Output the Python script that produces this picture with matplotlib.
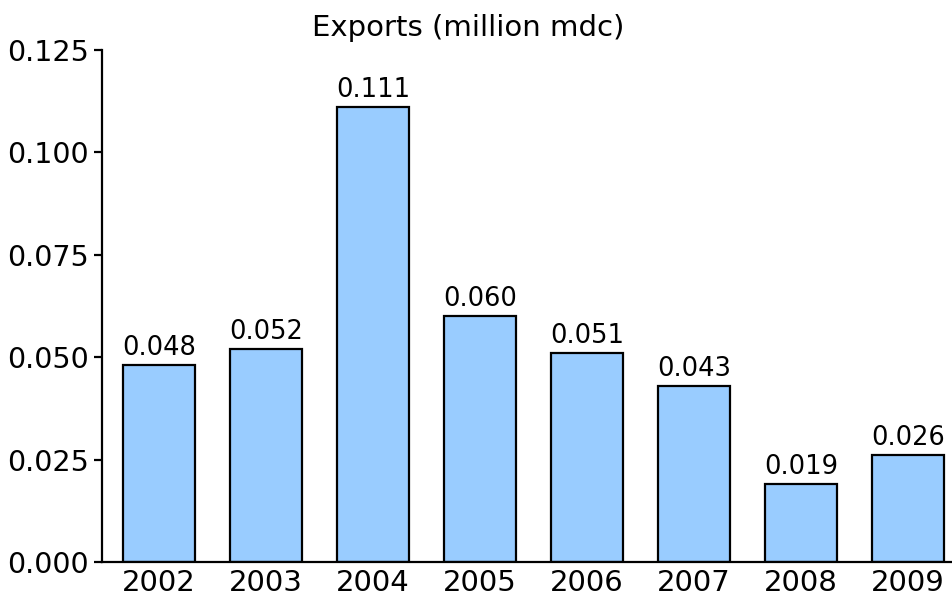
import matplotlib
matplotlib.use("Agg")
import matplotlib.pyplot as plt

years = ["2002", "2003", "2004", "2005", "2006", "2007", "2008", "2009"]
exports = [0.048, 0.052, 0.111, 0.060, 0.051, 0.043, 0.019, 0.026]

fig = plt.figure(figsize=(9.52, 5.99), dpi=100)
ax = fig.add_axes([0.1071, 0.0618, 0.8929, 0.8547])

x = range(len(years))
bars = ax.bar(x, exports, width=0.67, color="#99ccff", edgecolor="black", linewidth=1.6)

for b, v in zip(bars, exports):
    ax.annotate(f"{v:.3f}", (b.get_x() + b.get_width() / 2, v),
                xytext=(0, 3), textcoords="offset points",
                ha="center", va="bottom", fontsize=18.5)

ax.set_xlim(-0.533, 7.41)
ax.set_ylim(0, 0.125)
ax.set_yticks([0, 0.025, 0.05, 0.075, 0.1, 0.125])
ax.set_yticklabels([f"{t:.3f}" for t in ax.get_yticks()])
ax.set_xticks(list(x))
ax.set_xticklabels(years)

ax.spines["top"].set_visible(False)
ax.spines["right"].set_visible(False)
ax.spines["left"].set_linewidth(1.6)
ax.spines["bottom"].set_linewidth(1.6)
ax.tick_params(axis="y", labelsize=20.5, width=1.6, length=6, direction="out")
ax.tick_params(axis="x", labelsize=21, length=0, pad=5)

fig.text(0.492, 0.953, "Exports (million mdc)", fontsize=21, ha="center", va="center")

fig.savefig("out.png", dpi=100)
